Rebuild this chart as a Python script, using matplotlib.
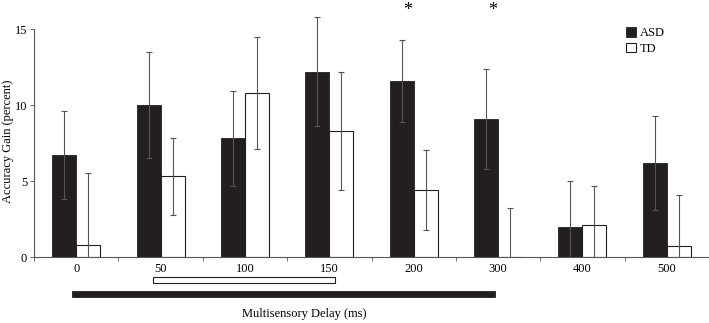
import matplotlib.pyplot as plt
import numpy as np

plt.rcParams['font.family'] = ['Liberation Serif', 'DejaVu Serif']
plt.rcParams['font.size'] = 9

delays = ["0", "50", "100", "150", "200", "300", "400", "500"]
asd_mean = [6.7, 10.0, 7.8, 12.2, 11.6, 9.1, 2.0, 6.2]
asd_err = [2.9, 3.5, 3.1, 3.6, 2.7, 3.3, 3.0, 3.1]
td_mean = [0.8, 5.3, 10.8, 8.3, 4.4, 0.0, 2.1, 0.7]
td_err = [4.7, 2.55, 3.7, 3.9, 2.65, 3.2, 2.55, 3.4]
starred = [4, 5]             # groups marked with *
asd_range = (0, 5)           # ASD significant span (group indices)
td_range = (1, 3)            # TD significant span

x = np.arange(len(delays))
w = 0.285
black = '#231f20'
grey = '#555555'

fig = plt.figure(figsize=(7.09, 3.23), dpi=100)
# y axis runs to 17 so tall error bars are not cut; spine stops at 15
ax = fig.add_axes([0.048, 0.2043, 0.952, 17 * 15.2 / 323])

ax.bar(x - w / 2, asd_mean, w, color=black, edgecolor=black, linewidth=0.6, label='ASD')
ax.bar(x + w / 2, td_mean, w, color='white', edgecolor=black, linewidth=0.8, label='TD')
ax.errorbar(x - w / 2, asd_mean, yerr=asd_err, fmt='none', ecolor=grey, elinewidth=0.8, capsize=2, capthick=0.8)
ax.errorbar(x + w / 2, td_mean, yerr=td_err, fmt='none', ecolor=grey, elinewidth=0.8, capsize=2, capthick=0.8)

for i in starred:
    ax.text(i - 0.07, 16.2, '*', ha='center', va='center', fontsize=13, clip_on=False)

# significance spans below the axis
a0, a1 = asd_range
ax.add_patch(plt.Rectangle((a0 - 0.05, -2.6), a1 - a0 + 0.01, 0.38, facecolor=black,
                           edgecolor=black, linewidth=0.6, clip_on=False))
t0, t1 = td_range
ax.add_patch(plt.Rectangle((t0 - 0.09, -1.69), t1 - t0 + 0.16, 0.36, facecolor='white',
                           edgecolor=black, linewidth=0.8, clip_on=False))

ax.set_xlim(-0.5, len(delays) - 0.5)
ax.set_ylim(0, 17)
ax.spines['left'].set_bounds(0, 15)
ax.set_yticks([0, 5, 10, 15])
ax.set_xticks(np.arange(-0.5, len(delays)), labels=[])
ax.set_xticks(x, labels=delays, minor=True)
ax.tick_params(axis='x', which='major', length=3, width=0.6, color=grey)
ax.tick_params(axis='x', which='minor', length=0, pad=4)
ax.tick_params(axis='y', length=3, width=0.6, color=grey, pad=2)
for s in ['top', 'right']:
    ax.spines[s].set_visible(False)
for s in ['left', 'bottom']:
    ax.spines[s].set_color(grey)
    ax.spines[s].set_linewidth(0.8)

fig.text(8 / 709, 1 - 141 / 323, 'Accuracy Gain (percent)', rotation=90, ha='center', va='center')
fig.text(304 / 709, 1 - 314 / 323, 'Multisensory Delay (ms)', ha='center', va='center')

ax.legend(loc='upper left', bbox_to_anchor=(626 / 709, 1 - 27 / 323), bbox_transform=fig.transFigure,
          frameon=False, handlelength=0.8, handleheight=0.8, handletextpad=0.3, labelspacing=0.3,
          borderpad=0, borderaxespad=0)

fig.savefig('out.png', dpi=100)
